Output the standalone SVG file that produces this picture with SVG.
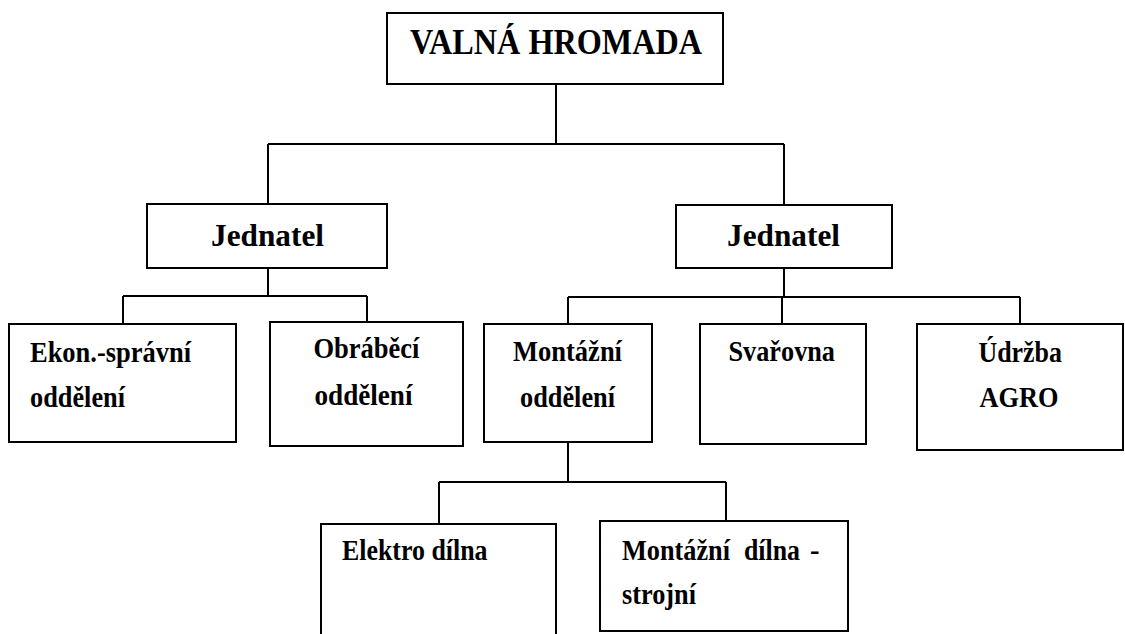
<svg xmlns="http://www.w3.org/2000/svg" width="1125" height="634" viewBox="0 0 1125 634">
  <style>
    .box { fill: #ffffff; stroke: #000000; stroke-width: 2; }
    .link { fill: none; stroke: #000000; stroke-width: 2; }
    .t { font-family: "Liberation Serif", "Times New Roman", serif; font-weight: bold; fill: #000000; }
    .t33 { font-size: 35px; }
    .t30 { font-size: 32px; }
    .t27 { font-size: 28.5px; }
  </style>
  <rect x="0" y="0" width="1125" height="634" fill="#ffffff"/>

  <!-- connectors -->
  <g id="connectors">
    <path class="link" d="M556 84 V144 M268 144 H784 M268 144 V204 M784 144 V205"/>
    <path class="link" d="M268 268 V296 M123 296 H367 M123 296 V324 M367 296 V322"/>
    <path class="link" d="M784 268 V297 M568 297 H1020 M568 297 V324 M782 297 V324 M1020 297 V324"/>
    <path class="link" d="M568 442 V482 M439 482 H726 M439 482 V524 M726 482 V521"/>
  </g>

  <g id="valna-hromada">
    <rect class="box" x="387" y="13" width="336" height="71"/>
    <text class="t t33" x="410" y="54" textLength="292" lengthAdjust="spacingAndGlyphs">VALNÁ HROMADA</text>
  </g>

  <g id="jednatel-1">
    <rect class="box" x="147" y="204" width="240" height="64"/>
    <text class="t t30" x="211" y="245.5" textLength="113" lengthAdjust="spacingAndGlyphs">Jednatel</text>
  </g>

  <g id="jednatel-2">
    <rect class="box" x="676" y="205" width="216" height="63"/>
    <text class="t t30" x="727" y="245.5" textLength="113" lengthAdjust="spacingAndGlyphs">Jednatel</text>
  </g>

  <g id="ekon-spravni">
    <rect class="box" x="9" y="324" width="227" height="118"/>
    <text class="t t27" x="30" y="361.5" textLength="161" lengthAdjust="spacingAndGlyphs">Ekon.-správní</text>
    <text class="t t27" x="30" y="406.5" textLength="95" lengthAdjust="spacingAndGlyphs">oddělení</text>
  </g>

  <g id="obrabeci">
    <rect class="box" x="270" y="322" width="193" height="124"/>
    <text class="t t27" x="313.5" y="357.5" textLength="106" lengthAdjust="spacingAndGlyphs">Obráběcí</text>
    <text class="t t27" x="314.5" y="405" textLength="98" lengthAdjust="spacingAndGlyphs">oddělení</text>
  </g>

  <g id="montazni-oddeleni">
    <rect class="box" x="484" y="324" width="168" height="118"/>
    <text class="t t27" x="513" y="361" textLength="109" lengthAdjust="spacingAndGlyphs">Montážní</text>
    <text class="t t27" x="520" y="406.5" textLength="95" lengthAdjust="spacingAndGlyphs">oddělení</text>
  </g>

  <g id="svarovna">
    <rect class="box" x="700" y="324" width="166" height="120"/>
    <text class="t t27" x="728.5" y="361" textLength="106.5" lengthAdjust="spacingAndGlyphs">Svařovna</text>
  </g>

  <g id="udrzba-agro">
    <rect class="box" x="917" y="324" width="206" height="126"/>
    <text class="t t27" x="978.5" y="361.5" textLength="83.5" lengthAdjust="spacingAndGlyphs">Údržba</text>
    <text class="t t27" x="979.5" y="406.5" textLength="79" lengthAdjust="spacingAndGlyphs">AGRO</text>
  </g>

  <g id="elektro-dilna">
    <rect class="box" x="321" y="524" width="235" height="130"/>
    <text class="t t27" x="342" y="560" textLength="145.5" lengthAdjust="spacingAndGlyphs">Elektro dílna</text>
  </g>

  <g id="montazni-dilna">
    <rect class="box" x="600" y="521" width="248" height="110"/>
    <text class="t t27" x="622" y="560" textLength="108" lengthAdjust="spacingAndGlyphs">Montážní</text>
    <text class="t t27" x="744" y="560" textLength="56" lengthAdjust="spacingAndGlyphs">dílna</text>
    <text class="t t27" x="810" y="560">-</text>
    <text class="t t27" x="622" y="603.5" textLength="74" lengthAdjust="spacingAndGlyphs">strojní</text>
  </g>
</svg>
